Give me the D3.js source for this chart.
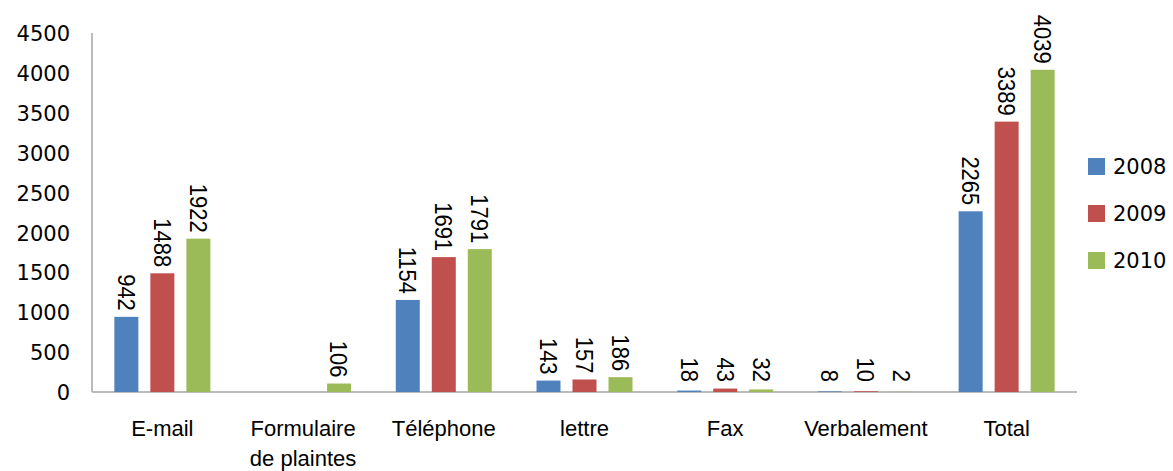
<!DOCTYPE html>
<html>
<head>
<meta charset="utf-8">
<script src="https://cdn.jsdelivr.net/npm/d3@7"></script>
<style>
  html, body { margin: 0; padding: 0; background: #fff; }
  svg { display: block; }
</style>
</head>
<body>
<svg id="chart" width="1173" height="471"></svg>
<script>
const categories = ["E-mail", "Formulaire\nde plaintes", "Téléphone", "lettre", "Fax", "Verbalement", "Total"];
const seriesNames = ["2008", "2009", "2010"];
const values2008 = [942, null, 1154, 143, 18, 8, 2265];
const values2009 = [1488, null, 1691, 157, 43, 10, 3389];
const values2010 = [1922, 106, 1791, 186, 32, 2, 4039];
const yTicks = [0, 500, 1000, 1500, 2000, 2500, 3000, 3500, 4000, 4500];
const colors = ["#4F81BD", "#C0504D", "#9BBB59"];

const series = [values2008, values2009, values2010];

const svg = d3.select("#chart");
const margin = { left: 92, right: 96, top: 33, bottom: 79 };
const W = 1173, H = 471;
const plotW = W - margin.left - margin.right;
const plotH = H - margin.top - margin.bottom;

const x = d3.scaleBand().domain(categories).range([margin.left, margin.left + plotW]).padding(0);
const y = d3.scaleLinear().domain([0, 4500]).range([margin.top + plotH, margin.top]);
const sub = d3.scaleBand().domain(seriesNames).range([-54, 54]).paddingInner(1/3).paddingOuter(1/6);

const axisColor = "#BBBBBB";

// Y axis labels
const yAxis = d3.axisLeft(y).tickValues(yTicks).tickSize(0).tickPadding(0).tickFormat(d3.format("d"));
const gy = svg.append("g").attr("transform", `translate(${margin.left - 22},0)`).call(yAxis);
gy.select(".domain").remove();
gy.selectAll("text")
  .attr("font-family", "DejaVu Sans, sans-serif")
  .attr("font-size", 21)
  .attr("fill", "#000")
  .attr("dy", "0.36em");

// Axis lines
svg.append("line")
  .attr("x1", margin.left).attr("x2", margin.left)
  .attr("y1", y(4500)).attr("y2", y(0))
  .attr("stroke", axisColor).attr("stroke-width", 2);
svg.append("line")
  .attr("x1", margin.left).attr("x2", margin.left + plotW)
  .attr("y1", y(0)).attr("y2", y(0))
  .attr("stroke", axisColor).attr("stroke-width", 2);

// Bars
const groups = svg.append("g");
series.forEach((vals, si) => {
  const name = seriesNames[si];
  const g = groups.append("g");
  categories.forEach((cat, ci) => {
    const v = vals[ci];
    if (v === null) return;
    const cx = x(cat) + x.bandwidth() / 2;
    const bx = cx + sub(name);
    const bw = sub.bandwidth();
    g.append("rect")
      .attr("x", bx)
      .attr("y", y(v))
      .attr("width", bw)
      .attr("height", y(0) - y(v))
      .attr("fill", colors[si]);
    g.append("text")
      .attr("transform", `translate(${bx + bw / 2},${Math.min(y(v), y(0) - 4) - 6}) rotate(90) scale(1,1.12)`)
      .attr("text-anchor", "end")
      .attr("dy", "0.35em")
      .attr("font-family", "Liberation Sans, Arial, sans-serif")
      .attr("font-size", 22)
      .attr("fill", "#000")
      .text(v);
  });
});

// Category labels
categories.forEach(cat => {
  const lines = cat.split("\n");
  const t = svg.append("text")
    .attr("x", x(cat) + x.bandwidth() / 2)
    .attr("y", 436)
    .attr("text-anchor", "middle")
    .attr("font-family", "Liberation Sans, Arial, sans-serif")
    .attr("font-size", 22)
    .attr("fill", "#000");
  lines.forEach((ln, i) => {
    t.append("tspan")
      .attr("x", x(cat) + x.bandwidth() / 2)
      .attr("dy", i === 0 ? 0 : 30)
      .text(ln);
  });
});

// Legend
const legend = svg.append("g").attr("transform", "translate(1088,158)");
seriesNames.forEach((name, i) => {
  const g = legend.append("g").attr("transform", `translate(0,${i * 47})`);
  g.append("rect").attr("width", 17).attr("height", 17).attr("fill", colors[i]);
  g.append("text")
    .attr("x", 25).attr("y", 8.5).attr("dy", "0.36em")
    .attr("font-family", "DejaVu Sans, sans-serif")
    .attr("font-size", 21)
    .attr("fill", "#000")
    .text(name);
});
</script>
</body>
</html>
